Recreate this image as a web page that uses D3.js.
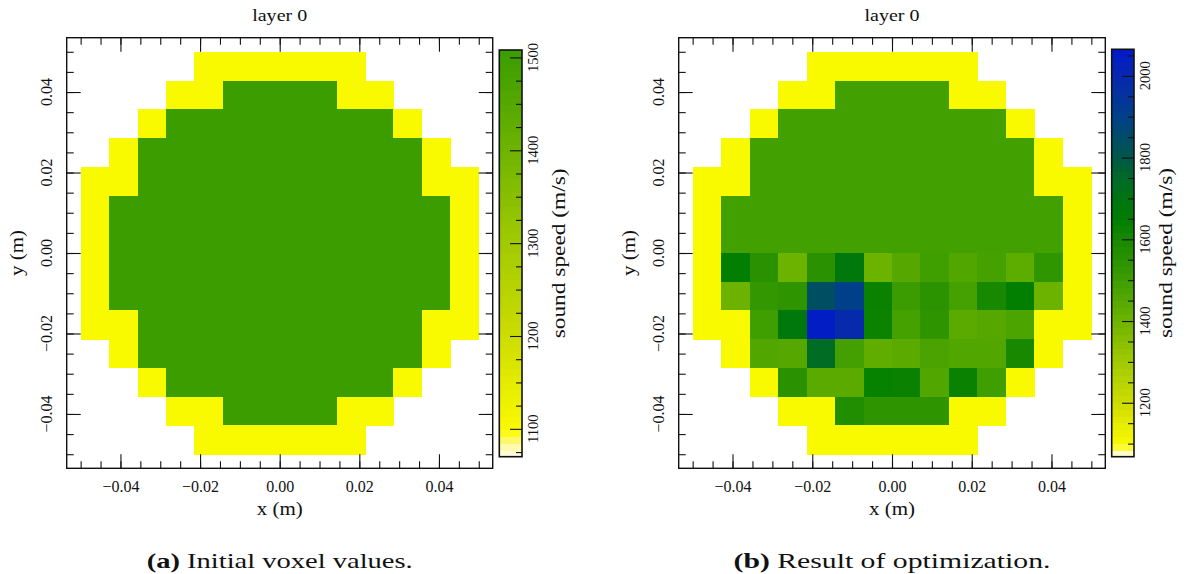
<!DOCTYPE html>
<html>
<head>
<meta charset="utf-8">
<script src="https://cdn.jsdelivr.net/npm/d3@7"></script>
<style>
  body { margin: 0; background: #fff; }
  svg { display: block; }
  text { font-family: "Liberation Serif", "Times New Roman", serif; fill: #111; }
</style>
</head>
<body>
<svg id="fig" width="1187" height="574"></svg>
<script>
// Voxel grid: 14 x 14 cells spanning [-0.05, 0.05] m in x and y, row 0 at the top.
const gridExtent = [-0.05, 0.05];
const nCells = 14;
const _ = null;

// Sound speed (m/s) of layer 0 before optimization.
const initialVoxels = [
  [_,_,_,_,1100,1100,1100,1100,1100,1100,_,_,_,_],
  [_,_,_,1100,1100,1505,1505,1505,1505,1100,1100,_,_,_],
  [_,_,1100,1505,1505,1505,1505,1505,1505,1505,1505,1100,_,_],
  [_,1100,1505,1505,1505,1505,1505,1505,1505,1505,1505,1505,1100,_],
  [1100,1100,1505,1505,1505,1505,1505,1505,1505,1505,1505,1505,1100,1100],
  [1100,1505,1505,1505,1505,1505,1505,1505,1505,1505,1505,1505,1505,1100],
  [1100,1505,1505,1505,1505,1505,1505,1505,1505,1505,1505,1505,1505,1100],
  [1100,1505,1505,1505,1505,1505,1505,1505,1505,1505,1505,1505,1505,1100],
  [1100,1505,1505,1505,1505,1505,1505,1505,1505,1505,1505,1505,1505,1100],
  [1100,1100,1505,1505,1505,1505,1505,1505,1505,1505,1505,1505,1100,1100],
  [_,1100,1505,1505,1505,1505,1505,1505,1505,1505,1505,1505,1100,_],
  [_,_,1100,1505,1505,1505,1505,1505,1505,1505,1505,1100,_,_],
  [_,_,_,1100,1100,1505,1505,1505,1505,1100,1100,_,_,_],
  [_,_,_,_,1100,1100,1100,1100,1100,1100,_,_,_,_]
];

// Sound speed (m/s) of layer 0 after optimization.
const optimizedVoxels = [
  [_,_,_,_,1100,1100,1100,1100,1100,1100,_,_,_,_],
  [_,_,_,1100,1100,1492,1492,1492,1492,1100,1100,_,_,_],
  [_,_,1100,1492,1492,1492,1492,1492,1492,1492,1492,1100,_,_],
  [_,1100,1492,1492,1492,1492,1492,1492,1492,1492,1492,1492,1100,_],
  [1100,1100,1492,1492,1492,1492,1492,1492,1492,1492,1492,1492,1100,1100],
  [1100,1492,1492,1492,1492,1492,1492,1492,1492,1492,1492,1492,1492,1100],
  [1100,1492,1492,1492,1492,1492,1492,1492,1492,1492,1492,1492,1492,1100],
  [1100,1645,1550,1405,1550,1680,1405,1450,1495,1460,1485,1435,1535,1100],
  [1100,1405,1530,1540,1840,1900,1630,1510,1545,1485,1600,1645,1405,1100],
  [1100,1100,1495,1680,2050,1990,1625,1485,1540,1440,1450,1470,1100,1100],
  [_,1100,1460,1450,1740,1490,1430,1440,1475,1460,1460,1600,1100,_],
  [_,_,1100,1550,1440,1440,1635,1630,1460,1630,1495,1100,_,_],
  [_,_,_,1100,1100,1575,1540,1540,1540,1100,1100,_,_,_],
  [_,_,_,_,1100,1100,1100,1100,1100,1100,_,_,_,_]
];

// Axis ticks (m)
const axisMajorTicks = [-0.04, -0.02, 0.00, 0.02, 0.04];
const axisMinorTicks = [-0.05,-0.045,-0.04,-0.035,-0.03,-0.025,-0.02,-0.015,-0.01,-0.005,0,
                        0.005,0.01,0.015,0.02,0.025,0.03,0.035,0.04,0.045,0.05];

// Colorbar ranges and ticks (m/s)
const colorbarRangeA = [1070, 1508];
const colorbarMajorA = [1100, 1200, 1300, 1400, 1500];
const colorbarMinorA = [1075,1125,1150,1175,1225,1250,1275,1325,1350,1375,1425,1450,1475];
const colorbarRangeB = [1068, 2065];
const colorbarMajorB = [1200, 1400, 1600, 1800, 2000];
const colorbarMinorB = [1100,1150,1250,1300,1350,1450,1500,1550,1650,1700,1750,1850,1900,1950,2050];

// Captions
const captionTags = ["(a)", "(b)"];
const captionTexts = ["Initial voxel values.", "Result of optimization."];

// Sound-speed colormap: pale yellow -> yellow -> green -> blue
const speedStops  = [1065, 1076, 1086, 1096, 1100, 1150, 1200, 1300, 1400, 1450, 1500, 1550, 1600, 1650, 1700, 1750, 1800, 1850, 1900, 2000, 2070];
const speedColors = ["#fffff4","#fffbd2","#fff985","#fbfb10","#f9f900","#e4ec00","#cddd00","#a2ca00","#6eb400","#56a800",
                     "#3e9e00","#2a9200","#188800","#007e00","#007412","#006a28","#005848","#004c68","#004088","#0828b0","#0018cc"];
const speedColor = d3.scaleLinear().domain(speedStops).range(speedColors).interpolate(d3.interpolateRgb).clamp(true);

const svg = d3.select("#fig");
const fmtAxis = d3.format(".2f");
const ink = "#111";

function drawPanel(p) {
  const g = svg.append("g");
  const x = d3.scaleLinear().domain([-0.0535, 0.0535]).range([p.left, p.right]);
  const y = d3.scaleLinear().domain([-0.0535, 0.0535]).range([p.bottom, p.top]);
  const step = (gridExtent[1] - gridExtent[0]) / nCells;

  // voxel cells
  const cells = [];
  p.values.forEach((row, r) => row.forEach((v, c) => { if (v !== null) cells.push({r, c, v}); }));
  g.append("g").attr("shape-rendering", "crispEdges")
    .selectAll("rect").data(cells).join("rect")
    .attr("x", d => x(gridExtent[0] + d.c * step))
    .attr("y", d => y(gridExtent[1] - d.r * step))
    .attr("width", d => x(gridExtent[0] + (d.c + 1) * step) - x(gridExtent[0] + d.c * step) + 0.5)
    .attr("height", d => y(gridExtent[1] - (d.r + 1) * step) - y(gridExtent[1] - d.r * step) + 0.5)
    .attr("fill", d => speedColor(d.v));

  // inward ticks on all four sides
  const styleAxis = sel => { sel.select(".domain").remove(); sel.selectAll("line").attr("stroke", ink).attr("stroke-width", 1.1); };
  g.append("g").attr("transform", `translate(0,${p.bottom})`)
    .call(d3.axisBottom(x).tickValues(axisMinorTicks).tickSizeInner(-7).tickSizeOuter(0).tickFormat(""))
    .call(styleAxis);
  const bx = g.append("g").attr("transform", `translate(0,${p.bottom})`)
    .call(d3.axisBottom(x).tickValues(axisMajorTicks).tickSizeInner(-14).tickSizeOuter(0).tickPadding(12).tickFormat(fmtAxis))
    .call(styleAxis);
  bx.attr("font-size", null).attr("font-family", null);
  bx.selectAll("text").attr("font-size", 16).attr("fill", ink);

  g.append("g").attr("transform", `translate(0,${p.top})`)
    .call(d3.axisTop(x).tickValues(axisMinorTicks).tickSizeInner(-7).tickSizeOuter(0).tickFormat(""))
    .call(styleAxis);
  g.append("g").attr("transform", `translate(0,${p.top})`)
    .call(d3.axisTop(x).tickValues(axisMajorTicks).tickSizeInner(-14).tickSizeOuter(0).tickFormat(""))
    .call(styleAxis);

  g.append("g").attr("transform", `translate(${p.left},0)`)
    .call(d3.axisLeft(y).tickValues(axisMinorTicks).tickSizeInner(-7).tickSizeOuter(0).tickFormat(""))
    .call(styleAxis);
  g.append("g").attr("transform", `translate(${p.left},0)`)
    .call(d3.axisLeft(y).tickValues(axisMajorTicks).tickSizeInner(-14).tickSizeOuter(0).tickFormat(""))
    .call(styleAxis);
  g.append("g").attr("transform", `translate(${p.right},0)`)
    .call(d3.axisRight(y).tickValues(axisMinorTicks).tickSizeInner(-7).tickSizeOuter(0).tickFormat(""))
    .call(styleAxis);
  g.append("g").attr("transform", `translate(${p.right},0)`)
    .call(d3.axisRight(y).tickValues(axisMajorTicks).tickSizeInner(-14).tickSizeOuter(0).tickFormat(""))
    .call(styleAxis);

  // rotated y tick labels
  g.append("g").selectAll("text").data(axisMajorTicks).join("text")
    .attr("transform", d => `translate(${p.left - 15},${y(d)}) rotate(-90)`)
    .attr("text-anchor", "middle")
    .attr("font-size", 16)
    .text(fmtAxis);

  // frame
  g.append("rect").attr("x", p.left).attr("y", p.top)
    .attr("width", p.right - p.left).attr("height", p.bottom - p.top)
    .attr("fill", "none").attr("stroke", ink).attr("stroke-width", 1.4);

  // title and axis labels
  const cx = (p.left + p.right) / 2, cy = (p.top + p.bottom) / 2;
  g.append("text").attr("x", cx).attr("y", 21).attr("text-anchor", "middle")
    .attr("font-size", 17).attr("textLength", 55).attr("lengthAdjust", "spacingAndGlyphs").text("layer 0");
  g.append("text").attr("x", cx).attr("y", 515).attr("text-anchor", "middle")
    .attr("font-size", 18).attr("textLength", 46).attr("lengthAdjust", "spacingAndGlyphs").text("x (m)");
  g.append("text").attr("transform", `translate(${p.left - 44},${cy}) rotate(-90)`).attr("text-anchor", "middle")
    .attr("font-size", 18).attr("textLength", 46).attr("lengthAdjust", "spacingAndGlyphs").text("y (m)");

  // colorbar
  const cb = d3.scaleLinear().domain(p.cbRange).range([p.cbBottom, p.cbTop]);
  const nBands = 60;
  const bandW = (p.cbRange[1] - p.cbRange[0]) / nBands;
  const bands = d3.range(nBands).map(i => p.cbRange[0] + i * bandW);
  const cg = g.append("g");
  cg.append("g").attr("shape-rendering", "crispEdges")
    .selectAll("rect").data(bands).join("rect")
    .attr("x", p.cbX).attr("width", p.cbW)
    .attr("y", d => cb(d + bandW))
    .attr("height", d => cb(d) - cb(d + bandW) + 0.6)
    .attr("fill", d => speedColor(d + bandW / 2));
  const cbRight = p.cbX + p.cbW;
  cg.append("g").attr("transform", `translate(${cbRight},0)`)
    .call(d3.axisRight(cb).tickValues(p.cbMinor).tickSizeInner(-6).tickSizeOuter(0).tickFormat(""))
    .call(styleAxis);
  cg.append("g").attr("transform", `translate(${cbRight},0)`)
    .call(d3.axisRight(cb).tickValues(p.cbMajor).tickSizeInner(-12).tickSizeOuter(0).tickFormat(""))
    .call(styleAxis);
  cg.append("rect").attr("x", p.cbX).attr("y", p.cbTop).attr("width", p.cbW).attr("height", p.cbBottom - p.cbTop)
    .attr("fill", "none").attr("stroke", ink).attr("stroke-width", 1.6);
  cg.append("g").selectAll("text").data(p.cbMajor).join("text")
    .attr("transform", d => `translate(${cbRight + 16},${cb(d)}) rotate(-90)`)
    .attr("text-anchor", "middle").attr("font-size", 14.5)
    .text(d => d);
  cg.append("text").attr("transform", `translate(${p.cbLabelX},${(p.cbTop + p.cbBottom) / 2}) rotate(-90)`)
    .attr("text-anchor", "middle").attr("font-size", 18)
    .attr("textLength", 170).attr("lengthAdjust", "spacingAndGlyphs").text("sound speed (m/s)");

  // caption
  const cap = g.append("text").attr("x", cx).attr("y", 568).attr("text-anchor", "middle")
    .attr("font-size", 22).attr("textLength", p.capLen).attr("lengthAdjust", "spacingAndGlyphs");
  cap.append("tspan").attr("font-weight", "bold").text(p.capTag);
  cap.append("tspan").text(" " + p.capText);
}

drawPanel({
  values: initialVoxels,
  left: 66.7, right: 492.7, top: 37.7, bottom: 468.3,
  cbX: 499.3, cbW: 22.7, cbTop: 50, cbBottom: 456.7, cbLabelX: 565,
  cbRange: colorbarRangeA, cbMajor: colorbarMajorA, cbMinor: colorbarMinorA,
  capTag: captionTags[0], capText: captionTexts[0], capLen: 266
});
drawPanel({
  values: optimizedVoxels,
  left: 678.7, right: 1105.3, top: 37.7, bottom: 468.3,
  cbX: 1111.7, cbW: 22.3, cbTop: 49.3, cbBottom: 456.7, cbLabelX: 1172,
  cbRange: colorbarRangeB, cbMajor: colorbarMajorB, cbMinor: colorbarMinorB,
  capTag: captionTags[1], capText: captionTexts[1], capLen: 317
});
</script>
</body>
</html>
